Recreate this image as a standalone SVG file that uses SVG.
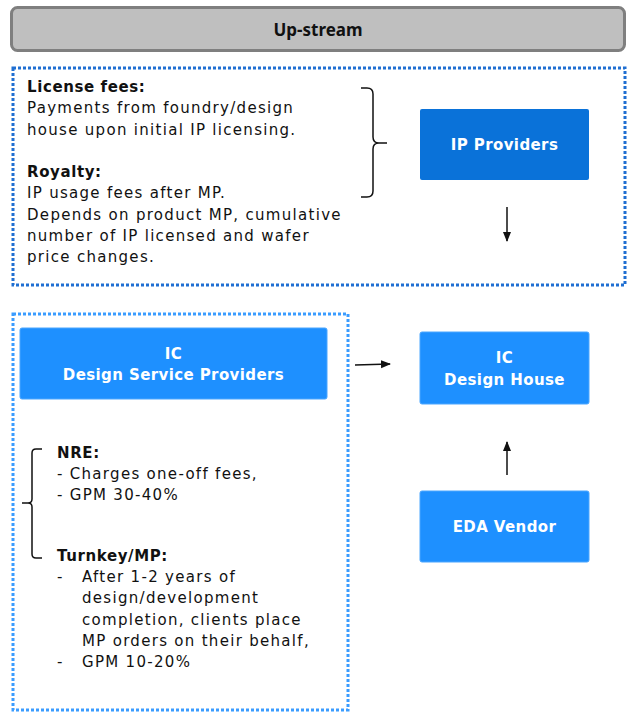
<svg xmlns="http://www.w3.org/2000/svg" width="632" height="713" viewBox="0 0 632 713">
<defs>
<style>
.t{font-family:"DejaVu Sans","Noto Sans",sans-serif;font-size:15px;fill:#111;letter-spacing:1.3px}
.b{font-weight:bold}
.h{font-family:"Noto Sans","Liberation Sans",sans-serif;font-size:17px;font-weight:bold;fill:#111;text-anchor:middle}
.w{font-family:"DejaVu Sans","Noto Sans",sans-serif;font-size:15px;font-weight:bold;fill:#fff;text-anchor:middle;letter-spacing:0.4px}
.box{fill:#1e90ff;stroke:#4aa6ff;stroke-width:1}
.ln{stroke:#111;stroke-width:1.5;fill:none}
</style>
<marker id="ah" markerWidth="10" markerHeight="10" refX="9" refY="5" orient="auto" markerUnits="userSpaceOnUse">
<path d="M0,1 L10,5 L0,9 Z" fill="#111"/>
</marker>
</defs>
<rect width="632" height="713" fill="#fff"/>

<g id="header">
<rect x="11.5" y="7.5" width="613" height="43" rx="6" fill="#bfbfbf" stroke="#7f7f7f" stroke-width="3"/>
<text class="h" x="318" y="36">Up-stream</text>
</g>

<g id="upstream-frame">
<rect x="13" y="68" width="612" height="217" fill="none" stroke="#1f6fd2" stroke-width="3" stroke-dasharray="3 2"/>
</g>

<g id="upstream-notes">
<text class="t b" x="27" y="92" style="letter-spacing:0.6px">License fees:</text>
<text class="t" x="27" y="113">Payments from foundry/design</text>
<text class="t" x="27" y="135">house upon initial IP licensing.</text>
<text class="t b" x="27" y="177" style="letter-spacing:0.6px">Royalty:</text>
<text class="t" x="27" y="198">IP usage fees after MP.</text>
<text class="t" x="27" y="220">Depends on product MP, cumulative</text>
<text class="t" x="27" y="241">number of IP licensed and wafer</text>
<text class="t" x="27" y="262">price changes.</text>
<path class="ln" d="M361,88 H367 Q373,88 373,94 V137 Q373,143 379,143 H387 M379,143 Q373,143 373,149 V191 Q373,197 367,197 H361"/>
</g>

<g id="ip-providers">
<rect x="420" y="109" width="169" height="71" rx="2" fill="#0a72d9"/>
<text class="w" x="504.5" y="150">IP Providers</text>
</g>

<g id="design-service-frame">
<rect x="13" y="314" width="335" height="396" fill="none" stroke="#3a9cff" stroke-width="3" stroke-dasharray="3 2"/>
</g>

<g id="ic-design-service-providers">
<rect x="20" y="328" width="307" height="71" rx="2" class="box"/>
<text class="w" x="173.5" y="359">IC</text>
<text class="w" x="173.5" y="380">Design Service Providers</text>
</g>

<g id="service-notes">
<path class="ln" d="M42,449 H36 Q32,449 32,453 V499 Q32,503 28,503 H22 M28,503 Q32,503 32,507 V554 Q32,558 36,558 H42"/>
<text class="t b" x="57" y="458" style="letter-spacing:0.6px">NRE:</text>
<text class="t" x="57" y="479">- Charges one-off fees,</text>
<text class="t" x="57" y="500">- GPM 30-40%</text>
<text class="t b" x="57" y="561" style="letter-spacing:0.6px">Turnkey/MP:</text>
<text class="t" x="57" y="582">-</text>
<text class="t" x="82" y="582">After 1-2 years of</text>
<text class="t" x="82" y="603">design/development</text>
<text class="t" x="82" y="625">completion, clients place</text>
<text class="t" x="82" y="646">MP orders on their behalf,</text>
<text class="t" x="57" y="667">-</text>
<text class="t" x="82" y="667">GPM 10-20%</text>
</g>

<g id="ic-design-house">
<rect x="420" y="332" width="169" height="72" rx="2" class="box"/>
<text class="w" x="504.5" y="363">IC</text>
<text class="w" x="504.5" y="385">Design House</text>
</g>

<g id="eda-vendor">
<rect x="420" y="491" width="169" height="71" rx="2" class="box"/>
<text class="w" x="504.5" y="532">EDA Vendor</text>
</g>

<g id="connectors">
<line class="ln" x1="507" y1="207" x2="507" y2="241" marker-end="url(#ah)"/>
<line class="ln" x1="355" y1="365" x2="390" y2="364" marker-end="url(#ah)"/>
<line class="ln" x1="507" y1="475" x2="507" y2="442" marker-end="url(#ah)"/>
</g>
</svg>
